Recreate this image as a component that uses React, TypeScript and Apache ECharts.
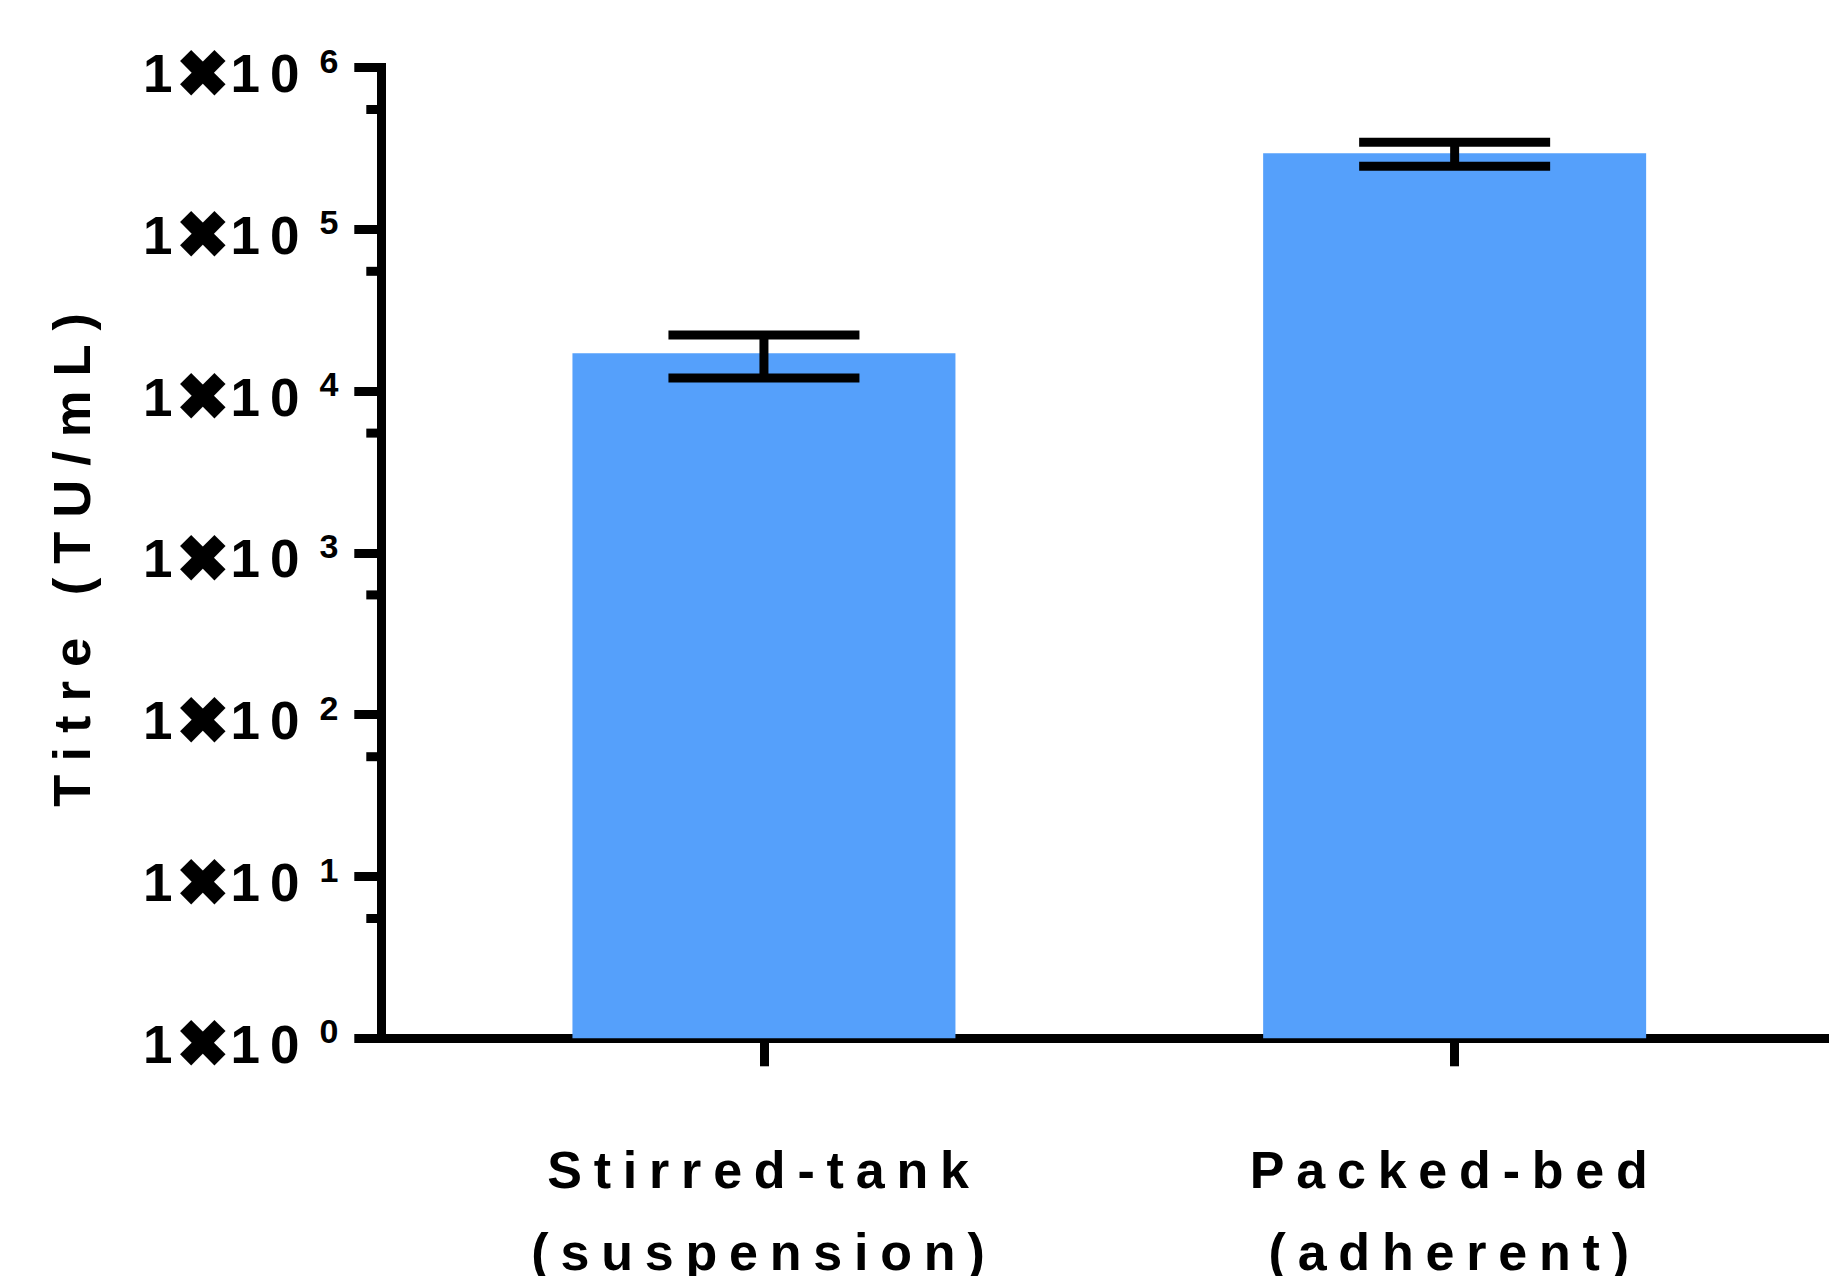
import React, { useEffect, useRef } from "react";
import * as echarts from "echarts";

const categories = ["Stirred-tank\n(suspension)", "Packed-bed\n(adherent)"];
const titreMean = [17150, 295000];
const titreSD = [5100, 50000];
const yMajorTicks = [1, 10, 100, 1000, 10000, 100000, 1000000];
const yMinorTicks = [5.5, 55, 550, 5500, 55000, 550000];
const yAxisTitle = "Titre (TU/mL)";

const X_MIN = -0.554;
const X_MAX = 1.542;

export default function App() {
  const ref = useRef<HTMLDivElement>(null);

  useEffect(() => {
    document.body.style.margin = "0";
    const chart = echarts.init(ref.current!, null, { renderer: "svg" });
    const font = "Liberation Sans";
    const barData = categories.map((_, i) => [i, titreMean[i]]);
    const errData = categories.map((_, i) => [i, titreMean[i] - titreSD[i], titreMean[i] + titreSD[i]]);
    const minorData = yMinorTicks.map((v) => [X_MIN, v]);
    const tok = { fontFamily: font, fontWeight: "bold", fontSize: 53, color: "#000", lineHeight: 60 };

    chart.setOption({
      animation: false,
      backgroundColor: "#ffffff",
      grid: { left: 381.3, right: 0, top: 67.5, bottom: 237.7, containLabel: false, outerBoundsMode: "none" },
      xAxis: {
        type: "value",
        min: X_MIN,
        max: X_MAX,
        splitLine: { show: false },
        axisLine: { onZero: false, lineStyle: { color: "#000", width: 9, cap: "square" } },
        axisTick: { customValues: [0, 1], length: 28, lineStyle: { color: "#000", width: 9 } },
        axisLabel: {
          customValues: [0, 1],
          formatter: (v: number) => categories[Math.round(v)] ?? "",
          color: "#000",
          fontFamily: font,
          fontWeight: "bold",
          fontSize: 52,
          lineHeight: 82,
          margin: 91,
        },
      },
      yAxis: {
        type: "log",
        logBase: 10,
        min: yMajorTicks[0],
        max: yMajorTicks[yMajorTicks.length - 1],
        splitNumber: 6,
        name: yAxisTitle,
        nameLocation: "middle",
        nameRotate: 90,
        nameGap: 283,
        nameTextStyle: {
          color: "#000",
          fontFamily: font,
          fontWeight: "bold",
          fontSize: 52.5,
        },
        splitLine: { show: false },
        axisLine: { onZero: false, lineStyle: { color: "#000", width: 9, cap: "square" } },
        axisTick: { length: 27, lineStyle: { color: "#000", width: 9 } },
        axisLabel: {
          formatter: (v: number) =>
            "{n|1}{x|✖}{o|1}{z|0}{s|" + Math.round(Math.log10(v)) + "}",
          margin: 43,
          padding: [12, 0, 0, 0],
          rich: {
            n: { ...tok },
            x: { ...tok, fontSize: 64, padding: [0, 0, 0, 4] },
            o: { ...tok },
            z: { ...tok, padding: [0, 0, 0, 10] },
            s: { ...tok, fontSize: 34, lineHeight: 24, verticalAlign: "top", padding: [0, 0, 0, 20] },
          },
        },
      },
      series: [
        {
          type: "bar",
          data: barData,
          barWidth: 383,
          itemStyle: { color: "#55A0FB" },
          z: 1,
        },
        {
          type: "custom",
          data: errData,
          z: 5,
          renderItem: (params: any, api: any) => {
            const x = api.value(0);
            const lo = api.coord([x, api.value(1)]);
            const hi = api.coord([x, api.value(2)]);
            const half = 95.5;
            const st = { stroke: "#000", lineWidth: 9 };
            return {
              type: "group",
              children: [
                { type: "line", shape: { x1: hi[0] - half, y1: hi[1], x2: hi[0] + half, y2: hi[1] }, style: st },
                { type: "line", shape: { x1: lo[0] - half, y1: lo[1], x2: lo[0] + half, y2: lo[1] }, style: st },
                { type: "line", shape: { x1: hi[0], y1: hi[1], x2: lo[0], y2: lo[1] }, style: st },
              ],
            };
          },
        },
        {
          type: "custom",
          data: minorData,
          z: 5,
          clip: false,
          renderItem: (params: any, api: any) => {
            const p = api.coord([api.value(0), api.value(1)]);
            return {
              type: "line",
              shape: { x1: p[0] - 15, y1: p[1], x2: p[0], y2: p[1] },
              style: { stroke: "#000", lineWidth: 9 },
            };
          },
        },
      ],
    });
    return () => chart.dispose();
  }, []);

  return (
    <>
      <style>{`#chart text[style*=" 52px"] { letter-spacing: 11.8px; } #chart text[style*="52.5px"] { letter-spacing: 14px; }`}</style>
      <div
        id="chart"
        ref={ref}
        style={{ position: "absolute", left: 0, top: 0, width: 1829, height: 1276 }}
      />
    </>
  );
}
